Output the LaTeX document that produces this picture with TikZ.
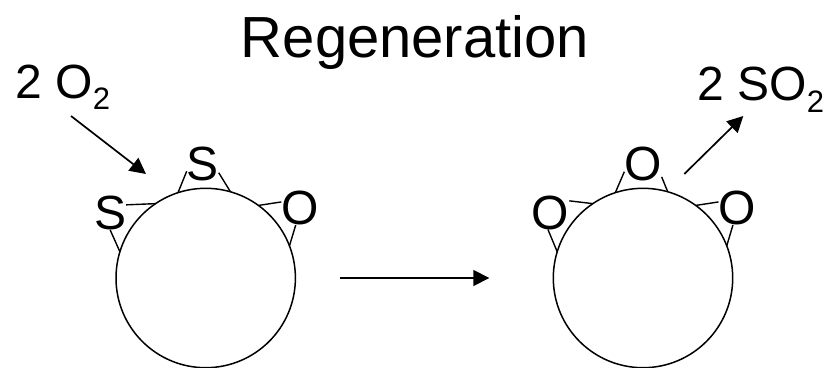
\documentclass[tikz,border=0pt]{standalone}
\usepackage{fontspec}
\setmainfont{Liberation Sans}
\usetikzlibrary{positioning, arrows.meta}
\tikzset{
  % Big circle of the sorbent particle
  ring/.style={
    draw, circle, minimum size=179.4pt, inner sep=0pt, outer sep=0pt,
    line width=1.5pt
  },
  % Letter sitting on the ring
  atom/.style={
    inner sep=0pt, outer sep=0pt, font=\fontsize{48}{50}\selectfont
  },
  % Free text
  formula/.style={
    inner sep=0pt, outer sep=0pt, anchor=base west,
    font=\fontsize{48}{50}\selectfont
  },
  heading/.style={
    inner sep=0pt, outer sep=0pt, anchor=base,
    font=\fontsize{58}{60}\selectfont
  },
  % Line between a letter and the ring
  bond/.style={draw, line width=1.4pt},
  % Arrow: reaction (solid, filled head)
  react/.style={
    draw, line width=1.7pt, -{Triangle[length=16pt, width=16pt]}
  }
}
\newcommand{\subtwo}{\raisebox{-11.5pt}{\fontsize{31}{31}\selectfont 2}}

\begin{document}
\begin{tikzpicture}[x=1pt, y=-1pt]
\useasboundingbox (0,0) rectangle (827,367);

% ============================================================
% TITLE + FORMULAS
% ============================================================
\node[heading] (title) at (415,57) {Regeneration};
\node[formula] (o2-label)  at (15.5,98)    {2 O\subtwo};
\node[formula] (so2-label) at (697.5,100.7) {2 SO\subtwo};

% ============================================================
% LEFT RING -- two S and one O
% ============================================================
\node[ring] (ring-a) at (205.7,278) {};
\node[atom, above=7.5pt of ring-a, xshift=-3pt] (a-top) {S};
\node[atom, left=-10.2pt of ring-a, yshift=65pt] (a-left) {S};
\node[atom, right=-14.1pt of ring-a, yshift=70pt] (a-right) {O};

% ============================================================
% RIGHT RING -- three O
% ============================================================
\node[ring, right=257.9pt of ring-a] (ring-b) {};
\node[atom, above=7.5pt of ring-b] (b-top) {O};
\node[atom, left=-16pt of ring-b, yshift=65.5pt] (b-left) {O};
\node[atom, right=-14.2pt of ring-b, yshift=70pt] (b-right) {O};

% ============================================================
% BONDS
% ============================================================
\draw[bond] (a-top.205)   -- (ring-a.108.7);
\draw[bond] (a-top.-29)   -- (ring-a.74.2);
\draw[bond] (a-left.27)   -- (ring-a.124);
\draw[bond] (a-left.270)  -- (ring-a.163);
\draw[bond] (a-right.162) -- (ring-a.54);
\draw[bond] (a-right.256) -- (ring-a.21);

\draw[bond] (b-top.203)   -- (ring-b.108.7);
\draw[bond] (b-top.-35)   -- (ring-b.74.2);
\draw[bond] (b-left.32)   -- (ring-b.124);
\draw[bond] (b-left.261)  -- (ring-b.163);
\draw[bond] (b-right.162) -- (ring-b.54);
\draw[bond] (b-right.256) -- (ring-b.21);

% ============================================================
% ARROWS
% ============================================================
\coordinate (o2-start)  at (71,116);
\coordinate (o2-end)    at (146,174);
\coordinate (so2-start) at (684.3,174);
\coordinate (so2-end)   at (743.3,116);

\draw[react] (o2-start) -- (o2-end);
\draw[react] (so2-start) -- (so2-end);
\draw[react, shorten <=44.6pt, shorten >=64pt] (ring-a) -- (ring-b);

\end{tikzpicture}
\end{document}
